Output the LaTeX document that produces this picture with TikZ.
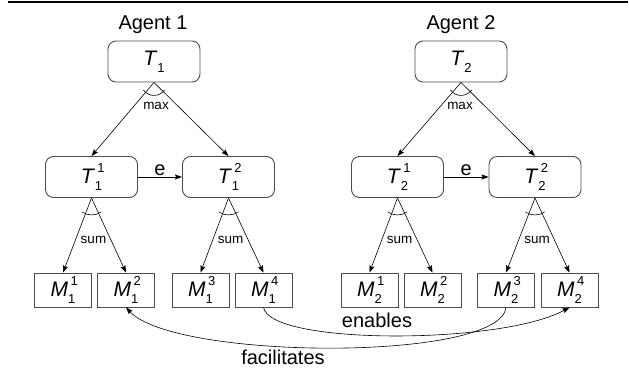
\documentclass[tikz,border=0pt]{standalone}
\usepackage{fontspec}
\setmainfont{Liberation Sans}
\usetikzlibrary{arrows.meta,calc}
\newcommand\tlab[3]{\textit{#1}\makebox[0pt][l]{\kern2.5pt\raisebox{0.5em}{\fontsize{13}{13}\selectfont #3}}\raisebox{-0.35em}{\fontsize{13}{13}\selectfont #2}}
\begin{document}
\begin{tikzpicture}[x=1pt,y=-1pt,
  tbox/.style={draw=black!70,line width=0.9pt,rounded corners=8pt,minimum width=92pt,minimum height=41pt,inner sep=0pt,font=\fontsize{21}{21}\selectfont},
  mbox/.style={draw=black!70,line width=0.9pt,minimum width=57pt,minimum height=34pt,inner sep=0pt,font=\fontsize{21}{21}\selectfont},
  arr/.style={line width=0.6pt,-{Stealth[length=7pt,width=5pt,inset=1pt]}},
  big/.style={font=\fontsize{20}{20}\selectfont},
  small/.style={font=\fontsize{13.5}{13.5}\selectfont,inner sep=0pt}]
\useasboundingbox (0,0) rectangle (629,373);
\draw[line width=1.3pt] (8,2) -- (628,2);
% agent 1
\node[big] (a1) at (153,25) {Agent 1};
\node[tbox] (T1) at (154,61.5) {\tlab{T}{1}{}};
\node[tbox] (T11) at (91.5,177) {\tlab{T}{1}{1}};
\node[tbox] (T12) at (228.5,177) {\tlab{T}{1}{2}};
\node[mbox] (M11) at (63,290) {\tlab{M}{1}{1}};
\node[mbox] (M12) at (126,290) {\tlab{M}{1}{2}};
\node[mbox] (M13) at (200.5,290) {\tlab{M}{1}{3}};
\node[mbox] (M14) at (263.5,290) {\tlab{M}{1}{4}};
% agent 2
\node[big] (a2) at (461,25) {Agent 2};
\node[tbox] (T2) at (461,61.5) {\tlab{T}{2}{}};
\node[tbox] (T21) at (397.5,177) {\tlab{T}{2}{1}};
\node[tbox] (T22) at (535,177) {\tlab{T}{2}{2}};
\node[mbox] (M21) at (369.5,290) {\tlab{M}{2}{1}};
\node[mbox] (M22) at (432.5,290) {\tlab{M}{2}{2}};
\node[mbox] (M23) at (506,290) {\tlab{M}{2}{3}};
\node[mbox] (M24) at (569.5,290) {\tlab{M}{2}{4}};
% max edges
\foreach \p/\a/\b in {T1/T11/T12, T2/T21/T22}{
  \draw[arr] (\p.south) -- (\a.north);
  \draw[arr] (\p.south) -- (\b.north);
  \draw[line width=0.6pt] ($(\p.south)+(215:13pt)$) arc[start angle=215,end angle=325,radius=13pt];
}
\node[small] (mx1) at (156,106) {max};
\node[small] (mx2) at (460,106) {max};
% e edges
\draw[arr] (T11.east) -- node[above=1pt,big,inner sep=0pt] (e1) {e} (T12.west);
\draw[arr] (T21.east) -- node[above=1pt,big,inner sep=0pt] (e2) {e} (T22.west);
% sum edges
\foreach \p/\a/\b/\n in {T11/M11/M12/s1, T12/M13/M14/s2, T21/M21/M22/s3, T22/M23/M24/s4}{
  \draw[arr] (\p.south) -- (\a.north);
  \draw[arr] (\p.south) -- (\b.north);
  \draw[line width=0.6pt] ($(\p.south)+(235:17pt)$) arc[start angle=235,end angle=305,radius=17pt];
  \node[small] (\n) at ($(\p.south)+(2,42)$) {sum};
}
% interrelations
\draw[arr] (M14.south) .. controls (270,345) and (500,345) .. (M24.south);
\draw[arr] (M23.south) .. controls (500,362) and (175,360) .. (M12.south);
\node[big] (en) at (377,320) {enables};
\node[big] (fa) at (283,357) {facilitates};
\end{tikzpicture}
\end{document}
